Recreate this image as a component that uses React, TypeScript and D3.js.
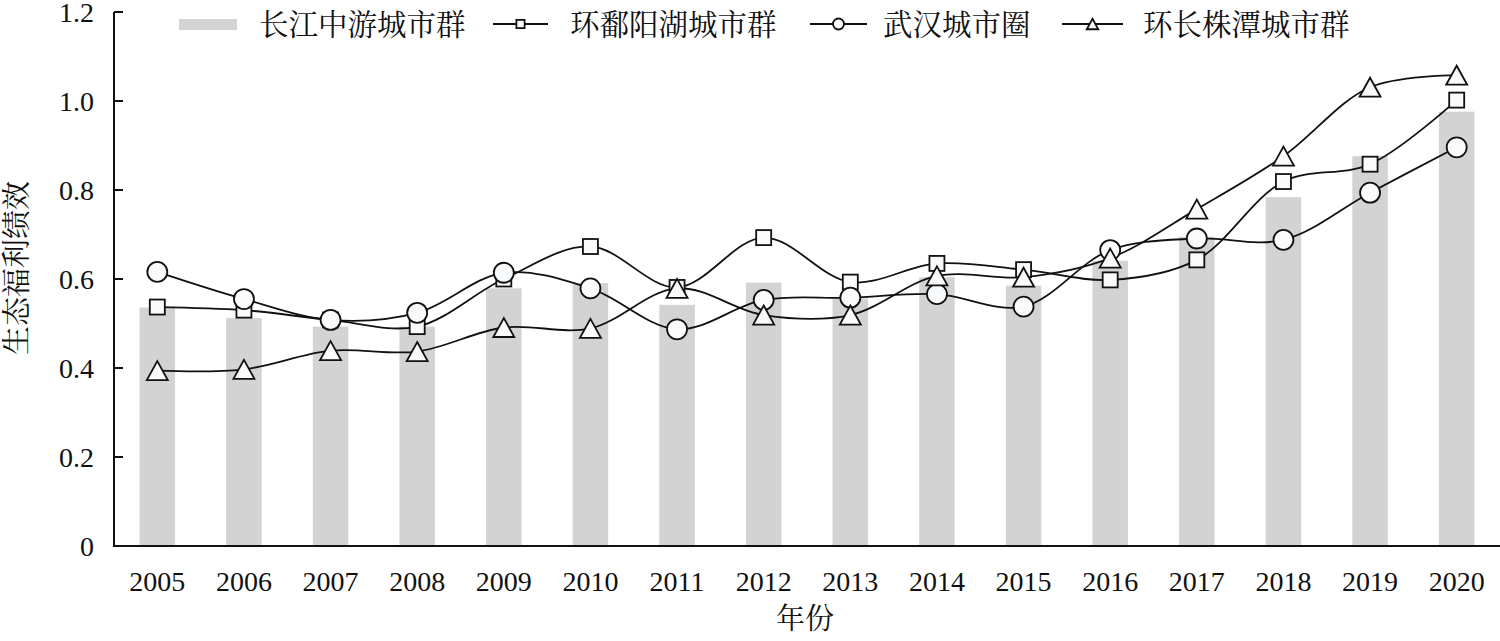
import React from "react";
import * as d3 from "d3";

const years = ["2005","2006","2007","2008","2009","2010","2011","2012","2013","2014","2015","2016","2017","2018","2019","2020"];
const barValues = [0.536,0.512,0.493,0.493,0.579,0.591,0.542,0.592,0.556,0.604,0.585,0.641,0.695,0.784,0.876,0.976];
const poyangValues = [0.537,0.530,0.508,0.493,0.600,0.673,0.581,0.693,0.593,0.635,0.621,0.598,0.643,0.819,0.858,1.002];
const wuhanValues = [0.616,0.555,0.508,0.524,0.614,0.579,0.487,0.553,0.558,0.566,0.538,0.665,0.691,0.688,0.794,0.896];
const czsValues = [0.394,0.397,0.439,0.437,0.491,0.489,0.579,0.519,0.519,0.607,0.604,0.647,0.757,0.876,1.031,1.058];
const yTicks = [0, 0.2, 0.4, 0.6, 0.8, 1.0, 1.2];
const seriesNames = ["长江中游城市群", "环鄱阳湖城市群", "武汉城市圈", "环长株潭城市群"];

const W = 1500, H = 641;
const FONT = "'Liberation Serif', 'Noto Serif CJK SC', 'Noto Sans CJK SC', serif";
const MARKER_FILL = "#f9fafc";

function Marker({ type, x, y, s = 1 }: { type: string; x: number; y: number; s?: number }) {
  const sw = 1.8;
  if (type === "square") {
    const a = 15 * s;
    return <rect x={x - a / 2} y={y - a / 2} width={a} height={a} fill={MARKER_FILL} stroke="#111" strokeWidth={sw} />;
  }
  if (type === "circle") {
    return <circle cx={x} cy={y} r={10 * s} fill={MARKER_FILL} stroke="#111" strokeWidth={sw} />;
  }
  const w = 21 * s, h = 19 * s;
  const pts = `${x},${y - h / 2} ${x + w / 2},${y + h / 2} ${x - w / 2},${y + h / 2}`;
  return <polygon points={pts} fill={MARKER_FILL} stroke="#111" strokeWidth={sw} strokeLinejoin="miter" />;
}

export default function App() {
  const x = d3.scaleBand<string>().domain(years).range([114, 1500]).paddingInner(0.59).paddingOuter(0.295);
  const xc = (d: string) => (x(d) as number) + x.bandwidth() / 2;
  const y = d3.scaleLinear().domain([0, 1.2]).range([546, 12]);

  const line = d3.line<number>()
    .x((_, i) => xc(years[i]))
    .y((v) => y(v))
    .curve(d3.curveCatmullRom.alpha(0.5));

  const series = [
    { vals: poyangValues, type: "square" },
    { vals: wuhanValues, type: "circle" },
    { vals: czsValues, type: "triangle" },
  ];

  const legendLines = [
    { type: "square", x1: 493, x2: 548, tx: 570, name: seriesNames[1] },
    { type: "circle", x1: 810, x2: 867, tx: 883, name: seriesNames[2] },
    { type: "triangle", x1: 1062, x2: 1123, tx: 1143, name: seriesNames[3] },
  ];

  return (
    <svg width={W} height={H} style={{ position: "absolute", left: 0, top: 0, background: "#fff" }} fontFamily={FONT}>
      <rect width={W} height={H} fill="#fff" />
      {/* bars */}
      {years.map((yr, i) => (
        <rect key={yr} x={x(yr)} y={y(barValues[i])} width={x.bandwidth()} height={y(0) - y(barValues[i])} fill="#d3d3d3" />
      ))}
      {/* lines */}
      {series.map((s, k) => (
        <path key={k} d={line(s.vals) as string} fill="none" stroke="#111" strokeWidth={1.8} />
      ))}
      {/* markers */}
      {series.map((s, k) => (
        <g key={k}>
          {s.vals.map((v, i) => (
            <Marker key={i} type={s.type} x={xc(years[i])} y={y(v)} />
          ))}
        </g>
      ))}
      {/* axes */}
      <line x1={114} x2={114} y1={y(1.2)} y2={y(0)} stroke="#111" strokeWidth={2} />
      <line x1={113} x2={1500} y1={y(0)} y2={y(0)} stroke="#111" strokeWidth={2} />
      {yTicks.map((t) => (
        <g key={t}>
          <line x1={114} x2={123} y1={y(t)} y2={y(t)} stroke="#111" strokeWidth={2} />
          <text x={94} y={y(t)} textAnchor="end" dominantBaseline="central" fontSize={28} fill="#111">
            {t === 0 ? "0" : t.toFixed(1)}
          </text>
        </g>
      ))}
      {years.map((yr) => (
        <text key={yr} x={xc(yr)} y={581} textAnchor="middle" dominantBaseline="central" fontSize={28} fill="#111">{yr}</text>
      ))}
      <text x={805} y={619} textAnchor="middle" dominantBaseline="central" fontSize={29} fill="#111">年份</text>
      <text transform={`translate(17,268) rotate(-90)`} textAnchor="middle" dominantBaseline="central" fontSize={29} fill="#111">生态福利绩效</text>
      {/* legend */}
      <rect x={179} y={19} width={58} height={11} fill="#d3d3d3" />
      <text x={259} y={25} dominantBaseline="central" fontSize={29.5} fill="#111">{seriesNames[0]}</text>
      {legendLines.map((l) => (
        <g key={l.type}>
          <line x1={l.x1} x2={l.x2} y1={24} y2={24} stroke="#111" strokeWidth={1.8} />
          <Marker type={l.type} x={(l.x1 + l.x2) / 2} y={24} s={0.55} />
          <text x={l.tx} y={25} dominantBaseline="central" fontSize={29.5} fill="#111">{l.name}</text>
        </g>
      ))}
    </svg>
  );
}
